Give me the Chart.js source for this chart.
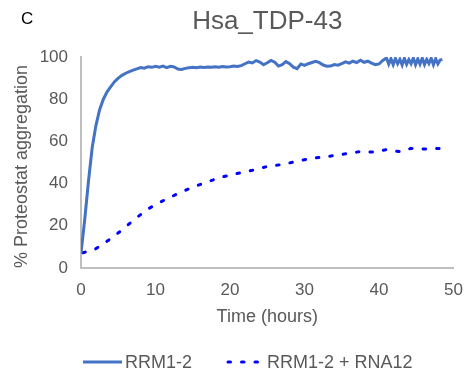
<!DOCTYPE html>
<html>
<head>
<meta charset="utf-8">
<script src="https://cdn.jsdelivr.net/npm/chart.js@4.4.1/dist/chart.umd.min.js"></script>
<style>
html, body { margin: 0; padding: 0; background: #fff; }
</style>
</head>
<body>
<canvas id="myChart" width="475" height="377"></canvas>
<script>
// RRM1-2 (solid) - hours / % aggregation
const rrmTime = [0, 0.5, 1, 1.5, 2, 2.5, 3, 3.5, 4, 4.5, 5, 5.5, 6, 6.5, 7, 7.5, 8, 8.5, 9, 9.5,
  10, 10.5, 11, 11.5, 12, 12.5, 13, 13.5, 14, 14.5, 15, 15.5, 16, 16.5, 17, 17.5, 18, 18.5, 19, 19.5,
  20, 20.5, 21, 21.5, 22, 22.5, 23, 23.5, 24, 24.5, 25, 25.5, 26, 26.5, 27, 27.5, 28, 28.5, 29, 29.5,
  30, 30.5, 31, 31.5, 32, 32.5, 33, 33.5, 34, 34.5, 35, 35.5, 36, 36.5, 37, 37.5, 38, 38.5, 39, 39.5,
  40, 40.5, 41, 41.3, 41.6, 41.9, 42.2, 42.5, 42.8, 43.1, 43.4, 43.7, 44, 44.3, 44.6, 44.9, 45.2, 45.5,
  45.8, 46.1, 46.4, 46.7, 47, 47.3, 47.6, 47.9, 48.2, 48.5];
const rrmValue = [7, 23, 41, 57, 67.5, 75, 80, 83.5, 86, 88.3, 90, 91.3, 92.3, 93.1, 93.8, 94.4, 95.0, 94.7, 95.4, 95.1,
  95.6, 95.2, 95.7, 95.0, 95.6, 95.3, 94.3, 94.1, 94.6, 94.9, 95.1, 94.9, 95.2, 95.0, 95.3, 95.1, 95.4, 95.2, 95.5, 95.3,
  95.4, 95.7, 95.5, 95.9, 96.8, 97.6, 97.2, 98.3, 97.6, 96.3, 97.3, 98.4, 97.5, 95.7, 96.4, 97.8, 96.8, 95.2, 94.5, 96.7,
  96.0, 96.8, 97.4, 97.9, 97.3, 96.2, 95.6, 95.7, 96.4, 96.1, 96.9, 97.7, 97.1, 98.0, 97.4, 98.5, 97.5, 98.0, 97.1, 96.4,
  96.7, 98.4, 99.5, 96.6, 99.2, 96.4, 99.3, 96.8, 98.9, 96.2, 99.4, 96.5, 98.8, 96.8, 99.5, 96.3, 99.1, 96.6,
  99.5, 96.4, 98.9, 96.9, 99.4, 96.3, 99.2, 96.7, 98.6, 98.9];

// RRM1-2 + RNA12 (dotted)
const rnaTime = [0.25, 1.85, 3.75, 5.5, 7.2, 9, 10.9, 12.8, 14.8, 16.9, 18.9, 21.1, 23, 25.1, 27.1,
  29, 31, 33, 35.1, 37.3, 39.1, 41, 42.9, 44.3, 46.2, 48.3];
const rnaValue = [7.2, 8.8, 13.3, 18, 23.1, 28, 31.7, 34.9, 38, 40.8, 43.1, 44.9, 46.3, 48.2, 49.1,
  50.6, 52, 52.8, 53.9, 55.1, 55, 56.1, 55.1, 56.7, 56.4, 56.7];

const seriesNames = ['RRM1-2', 'RRM1-2 + RNA12'];
const xTicks = [0, 10, 20, 30, 40, 50];
const yTicks = [0, 20, 40, 60, 80, 100];

const FONT = '"Liberation Sans", Arial, sans-serif';
const GREY = '#595959';

function toPoints(xs, ys) {
  return xs.map((x, i) => ({x: x, y: ys[i]}));
}

// panel letter + legend drawn on top
const extras = {
  id: 'extras',
  afterDraw(chart) {
    const ctx = chart.ctx;
    ctx.save();
    ctx.fillStyle = '#000';
    ctx.font = '17px ' + FONT;
    ctx.textBaseline = 'alphabetic';
    ctx.textAlign = 'left';
    ctx.fillText('C', 21, 24);

    const spots = [{x: 83, w: 39, tx: 125}, {x: 228, w: 30, tx: 267}];
    const y = 362;
    chart.data.datasets.forEach((ds, i) => {
      const s = spots[i];
      ctx.strokeStyle = ds.borderColor;
      ctx.lineWidth = ds.borderWidth;
      ctx.lineCap = ds.borderCapStyle || 'butt';
      ctx.setLineDash(ds.borderDash || []);
      ctx.beginPath();
      ctx.moveTo(s.x, y);
      ctx.lineTo(s.x + s.w, y);
      ctx.stroke();
      ctx.setLineDash([]);
      ctx.fillStyle = GREY;
      ctx.font = '18px ' + FONT;
      ctx.textBaseline = 'middle';
      ctx.fillText(ds.label, s.tx, y + 1);
    });
    ctx.restore();
  }
};

const ctx = document.getElementById('myChart');
const myChart = new Chart(ctx, {
  type: 'line',
  data: {
    datasets: [{
      label: seriesNames[0],
      data: toPoints(rrmTime, rrmValue),
      borderColor: '#4472C4',
      borderWidth: 3,
      pointRadius: 0,
      fill: false
    }, {
      label: seriesNames[1],
      data: toPoints(rnaTime, rnaValue),
      borderColor: '#0000FF',
      borderWidth: 3,
      borderDash: [2.5, 11],
      borderCapStyle: 'round',
      pointRadius: 0,
      fill: false
    }]
  },
  options: {
    responsive: false,
    animation: false,
    devicePixelRatio: 1,
    layout: { padding: { left: 0, right: 16, top: 0, bottom: 49 } },
    plugins: {
      legend: { display: false },
      tooltip: { enabled: false },
      title: {
        display: true,
        text: 'Hsa_TDP-43',
        fullSize: false,
        color: GREY,
        font: { family: FONT, size: 26, weight: 'normal' },
        padding: { top: 6, bottom: 19.8 }
      }
    },
    scales: {
      x: {
        type: 'linear',
        min: xTicks[0],
        max: xTicks[xTicks.length - 1],
        ticks: { stepSize: xTicks[1] - xTicks[0], color: GREY, padding: 12, font: { family: FONT, size: 17 } },
        grid: { display: false, drawTicks: false },
        border: { color: '#BFBFBF', width: 2 },
        title: { display: true, text: 'Time (hours)', color: GREY, font: { family: FONT, size: 18 }, padding: { top: 0, bottom: 0 } },
        afterFit(scale) { scale.height = 60; }
      },
      y: {
        min: yTicks[0],
        max: yTicks[yTicks.length - 1],
        ticks: { stepSize: yTicks[1] - yTicks[0], color: GREY, padding: 13, font: { family: FONT, size: 17 } },
        grid: { display: false, drawTicks: false },
        border: { color: '#BFBFBF', width: 2 },
        title: { display: true, text: '% Proteostat aggregation', align: 'start', color: GREY, font: { family: FONT, size: 18 }, padding: { top: 11, bottom: 0 } },
        afterFit(scale) { scale.width = 81; }
      }
    }
  },
  plugins: [extras]
});
</script>
</body>
</html>
